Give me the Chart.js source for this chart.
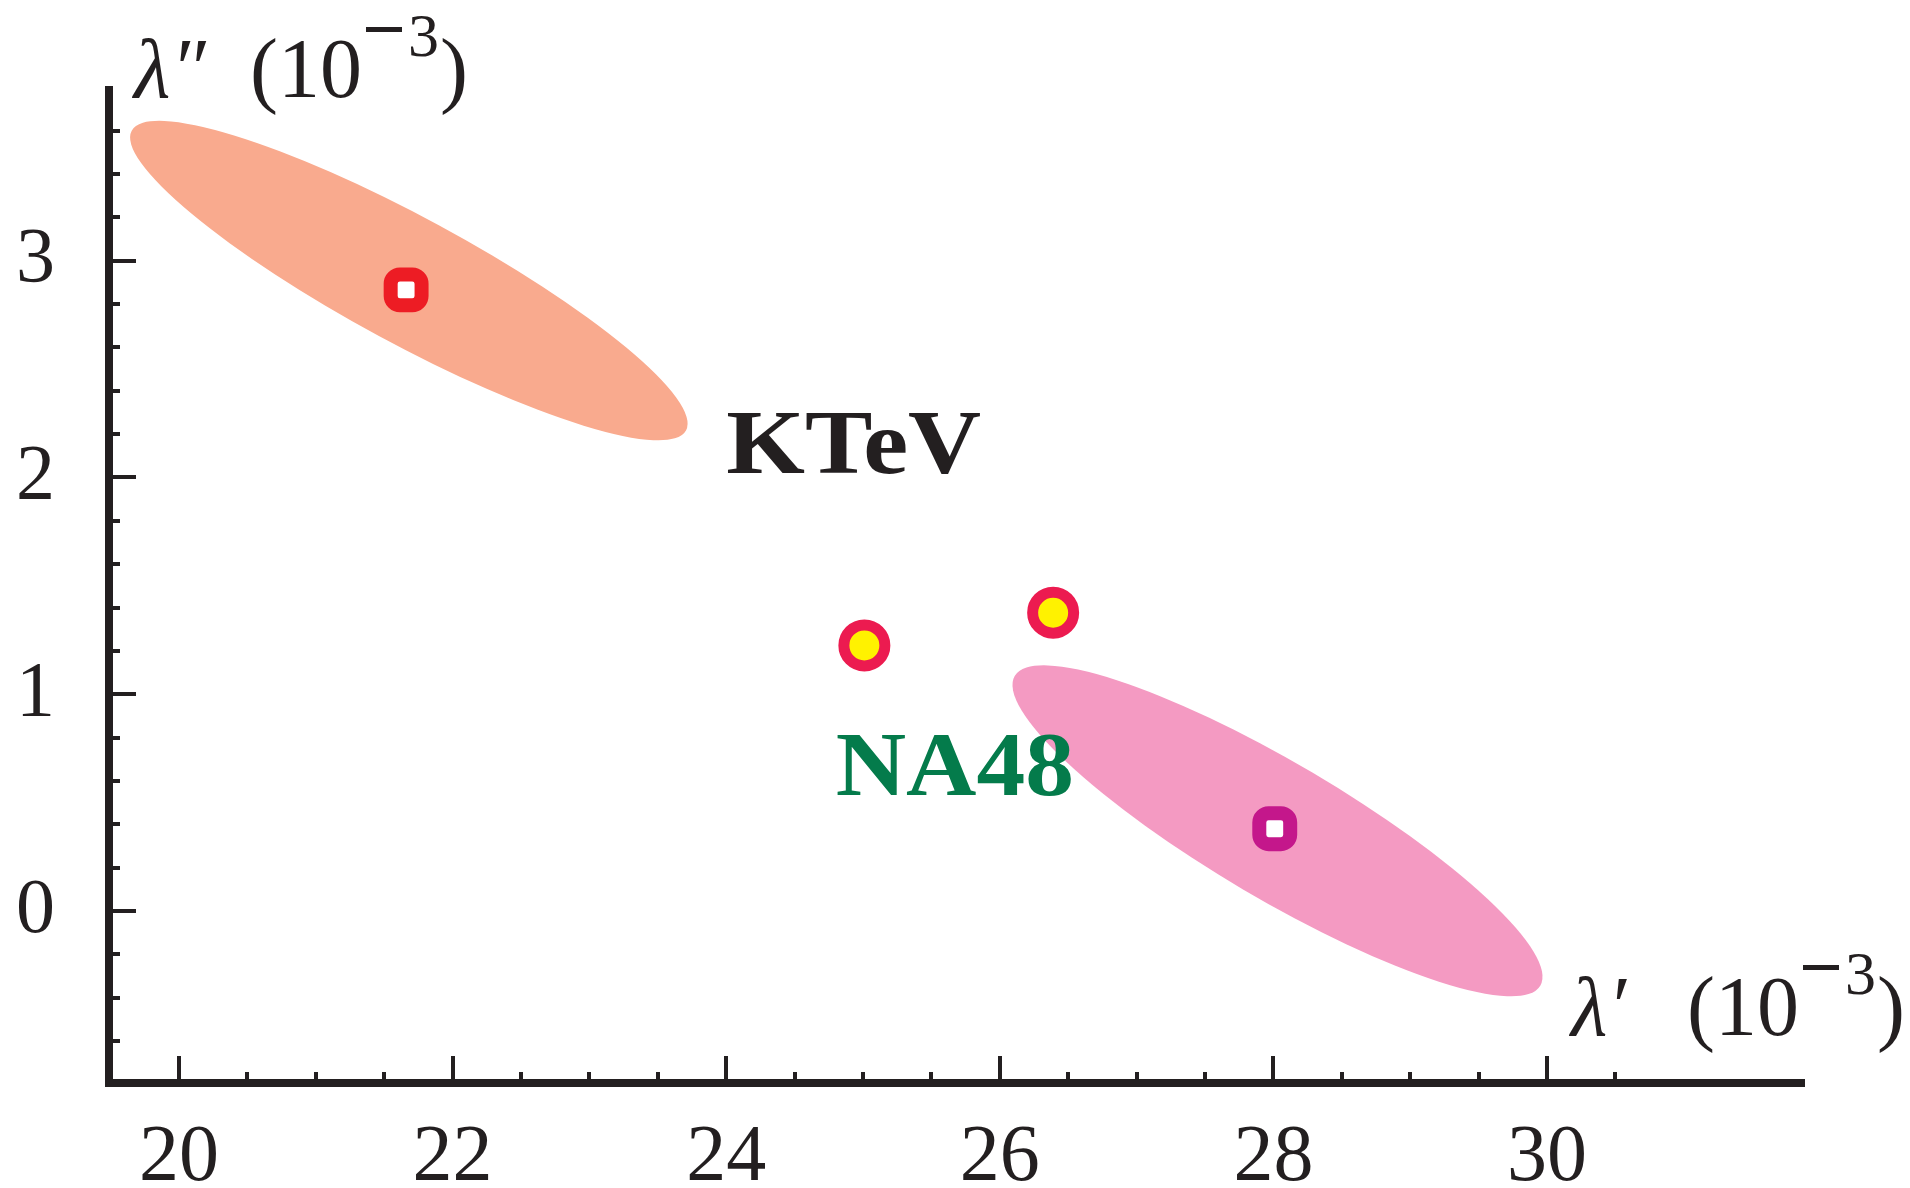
<!DOCTYPE html>
<html lang="en">
<head>
<meta charset="UTF-8">
<title>lambda' lambda''</title>
<script src="https://cdn.jsdelivr.net/npm/chart.js"></script>
<style>
  html, body { margin: 0; padding: 0; background: #fff; }
  .box { width: 1910px; height: 1188px; }
</style>
</head>
<body>
<div class="box"><canvas id="grafico"></canvas></div>
<script>
// values in units of 10^-3
const xTickLabels = [20, 22, 24, 26, 28, 30];
const yTickLabels = [0, 1, 2, 3];
const ktevPoint = [{x: 21.66, y: 2.865}];
const na48Point = [{x: 28.01, y: 0.38}];
const otherPoints = [{x: 25.01, y: 1.225}, {x: 26.39, y: 1.376}];
// ellipses: centre x, centre y, then two conjugate half-axis vectors (dx, dy)
const ktevEllipse = [21.68, 2.908, 2.026, -0.691, -0.219, -0.2555];
const na48Ellipse = [28.03, 0.370, 1.921, -0.714, -0.252, -0.270];

const ink = '#231f20';
const serif = '"Liberation Serif", "DejaVu Serif", serif';

function txt(ctx, s, x, y, font, color, sx) {
    ctx.save();
    ctx.font = font;
    ctx.fillStyle = color;
    ctx.textBaseline = 'alphabetic';
    ctx.textAlign = 'left';
    ctx.translate(x, y);
    ctx.scale(sx || 1, 1);
    ctx.fillText(s, 0, 0);
    ctx.restore();
}

// "(10^-3)" with a drawn minus sign
function unit(ctx, x, y) {
    txt(ctx, '(10', x, y, '84px ' + serif, ink);
    ctx.fillStyle = ink;
    ctx.fillRect(x + 116, y - 70, 36, 5);
    txt(ctx, '3', x + 158, y - 41, '62px ' + serif, ink);
    txt(ctx, ')', x + 190, y, '84px ' + serif, ink);
}

function ellipse(chart, e, color) {
    const ctx = chart.ctx, xs = chart.scales.x, ys = chart.scales.y;
    const cx = xs.getPixelForValue(e[0]), cy = ys.getPixelForValue(e[1]);
    const ux = xs.getPixelForValue(e[0] + e[2]) - cx, uy = ys.getPixelForValue(e[1] + e[3]) - cy;
    const vx = xs.getPixelForValue(e[0] + e[4]) - cx, vy = ys.getPixelForValue(e[1] + e[5]) - cy;
    ctx.save();
    ctx.beginPath();
    ctx.transform(ux, uy, vx, vy, cx, cy);
    ctx.arc(0, 0, 1, 0, 2 * Math.PI);
    ctx.restore();
    ctx.fillStyle = color;
    ctx.fill();
}

const extras = {
    id: 'extras',
    beforeDatasetsDraw(chart) {
        ellipse(chart, ktevEllipse, '#f9aa8e');
        ellipse(chart, na48Ellipse, '#f49ac2');
    },
    afterDraw(chart) {
        const ctx = chart.ctx, xs = chart.scales.x, ys = chart.scales.y, a = chart.chartArea;
        ctx.save();
        ctx.strokeStyle = ink;
        ctx.lineWidth = 4;
        ctx.beginPath();
        // inward ticks, y every 0.2
        for (let i = -3; i <= 18; i++) {
            const v = i / 5, py = Math.round(ys.getPixelForValue(v));
            const len = (i % 5 === 0) ? 27 : 11;
            ctx.moveTo(a.left, py); ctx.lineTo(a.left + len, py);
        }
        // x every 0.5
        for (let i = 40; i <= 61; i++) {
            const v = i / 2, px = Math.round(xs.getPixelForValue(v));
            const len = (i % 4 === 0) ? 27 : 11;
            ctx.moveTo(px, a.bottom); ctx.lineTo(px, a.bottom - len);
        }
        ctx.stroke();
        ctx.restore();

        // x tick labels
        ctx.save();
        ctx.font = '80px ' + serif;
        ctx.fillStyle = ink;
        ctx.textAlign = 'center';
        ctx.textBaseline = 'alphabetic';
        xTickLabels.forEach(v => ctx.fillText(String(v), xs.getPixelForValue(v), a.bottom + 97));
        ctx.restore();

        // annotations
        txt(ctx, 'KTeV', xs.getPixelForValue(24.0), ys.getPixelForValue(2.02), 'bold 92px ' + serif, ink, 1.1);
        txt(ctx, 'NA48', xs.getPixelForValue(24.8), ys.getPixelForValue(0.535), 'bold 92px ' + serif, '#047b4b', 1.06);

        // axis titles
        txt(ctx, 'λ″', 134, 97, 'italic 84px ' + serif, ink);
        unit(ctx, 250, 97);
        txt(ctx, 'λ′', 1571, 1035, 'italic 84px ' + serif, ink);
        unit(ctx, 1687, 1035);
    }
};

const ctx = document.getElementById('grafico').getContext('2d');
new Chart(ctx, {
    type: 'scatter',
    data: {
        datasets: [{
            label: 'KTeV',
            data: ktevPoint,
            pointStyle: 'rectRounded',
            pointRadius: 18,
            borderWidth: 14,
            borderColor: '#ed1c24',
            backgroundColor: '#ffffff'
        }, {
            label: 'NA48',
            data: na48Point,
            pointStyle: 'rectRounded',
            pointRadius: 18,
            borderWidth: 14,
            borderColor: '#c4178b',
            backgroundColor: '#ffffff'
        }, {
            label: 'other',
            data: otherPoints,
            pointStyle: 'circle',
            pointRadius: 20.5,
            borderWidth: 11,
            borderColor: '#ec1b50',
            backgroundColor: '#fff200'
        }]
    },
    options: {
        responsive: true,
        maintainAspectRatio: false,
        animation: false,
        events: [],
        layout: { padding: { left: 0, right: 106, top: 90, bottom: 0 } },
        plugins: { legend: { display: false }, tooltip: { enabled: false } },
        scales: {
            x: {
                type: 'linear',
                min: 19.488,
                max: 31.879,
                grid: { display: false, drawTicks: false },
                border: { display: true, width: 8, color: ink },
                ticks: { display: false },
                afterFit(s) { s.height = 105; s.paddingLeft = 0; s.paddingRight = 0; }
            },
            y: {
                type: 'linear',
                min: -0.793,
                max: 3.787,
                grid: { display: false, drawTicks: false },
                border: { display: true, width: 8, color: ink },
                ticks: {
                    color: ink,
                    padding: 54,
                    font: { family: serif, size: 78 }
                },
                afterBuildTicks(s) { s.ticks = yTickLabels.map(v => ({ value: v })); },
                afterFit(s) { s.width = 109; s.paddingTop = 0; s.paddingBottom = 0; }
            }
        }
    },
    plugins: [extras]
});
</script>
</body>
</html>
